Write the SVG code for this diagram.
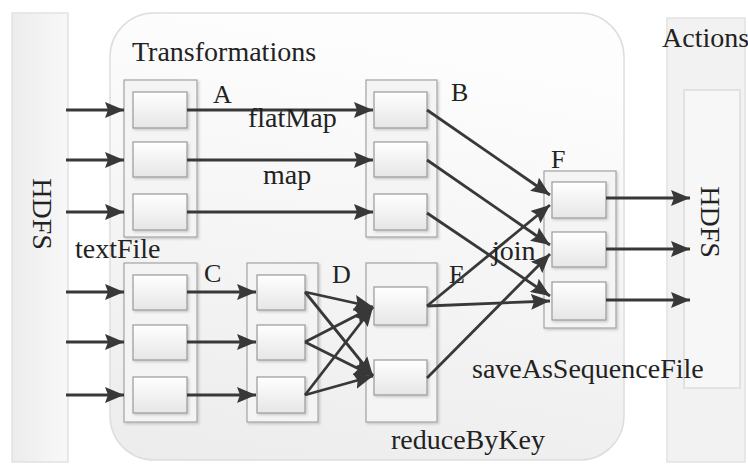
<svg xmlns="http://www.w3.org/2000/svg" width="748" height="466" viewBox="0 0 748 466">
  <style>
    .t { font-family: "Liberation Serif", "Times New Roman", serif; fill: #222222; font-size: 28px; }
    .lbl { font-family: "Liberation Serif", "Times New Roman", serif; fill: #222222; font-size: 26px; }
    .outer { fill: #f4f4f4; stroke: #a3a3a3; stroke-width: 1.2; filter: url(#sh); }
    .inner { fill: url(#gInner); stroke: #9a9a9a; stroke-width: 1.2; filter: url(#sh); }
    .edge { stroke: #383838; stroke-width: 2.8; fill: none; marker-end: url(#arr); }
  </style>
  <defs>
    <marker id="arr" markerUnits="userSpaceOnUse" markerWidth="20" markerHeight="16" refX="19" refY="8" orient="auto">
      <path d="M0,0 L19,8 L0,16 L3,8 z" fill="#383838"/>
    </marker>
    <linearGradient id="gInner" x1="0" y1="0" x2="0" y2="1">
      <stop offset="0" stop-color="#ffffff"/>
      <stop offset="1" stop-color="#e6e6e6"/>
    </linearGradient>
    <linearGradient id="gPanel" x1="0.2" y1="0" x2="0" y2="1">
      <stop offset="0" stop-color="#fdfdfd"/>
      <stop offset="1" stop-color="#ececec"/>
    </linearGradient>
    <linearGradient id="gSide" x1="0" y1="0" x2="1" y2="0">
      <stop offset="0" stop-color="#ececec"/>
      <stop offset="1" stop-color="#f8f8f8"/>
    </linearGradient>
    <filter id="sh" x="-10%" y="-10%" width="130%" height="130%">
      <feDropShadow dx="1.5" dy="1.5" stdDeviation="1" flood-color="#000" flood-opacity="0.18"/>
    </filter>
  </defs>

  <rect width="748" height="466" fill="#ffffff"/>

  <!-- background panels -->
  <g id="hdfs-in">
    <rect x="12" y="13" width="56" height="449" fill="url(#gSide)" stroke="#e2e2e2" stroke-width="1.5"/>
    <text class="t" font-size="25" transform="translate(42,214) rotate(90)" text-anchor="middle" dominant-baseline="central">HDFS</text>
  </g>
  <g id="transformations">
    <rect x="110" y="13" width="514" height="447" rx="44" ry="44" fill="url(#gPanel)" stroke="#dedede" stroke-width="1.5"/>
    <text class="t" x="132" y="61">Transformations</text>
  </g>
  <g id="actions">
    <rect x="667" y="18" width="78" height="444" fill="#f2f2f2" stroke="#e2e2e2" stroke-width="1.5"/>
    <rect x="684" y="90" width="56" height="298" fill="#f7f7f7" stroke="#dcdcdc" stroke-width="1.5"/>
    <text class="t" x="662" y="47">Actions</text>
    <text class="t" font-size="27" transform="translate(710,222) rotate(90)" text-anchor="middle" dominant-baseline="central">HDFS</text>
  </g>

  <!-- RDD nodes -->
  <g id="A">
    <rect class="outer" x="124" y="80" width="73" height="157"/>
    <rect class="inner" x="133" y="92" width="54" height="36"/>
    <rect class="inner" x="133" y="142" width="54" height="35"/>
    <rect class="inner" x="133" y="194" width="54" height="36"/>
    <text class="lbl" x="213" y="103">A</text>
  </g>
  <g id="B">
    <rect class="outer" x="366" y="80" width="71" height="157"/>
    <rect class="inner" x="374" y="92" width="53" height="36"/>
    <rect class="inner" x="374" y="142" width="53" height="35"/>
    <rect class="inner" x="374" y="194" width="53" height="36"/>
    <text class="lbl" x="451" y="101">B</text>
  </g>
  <g id="C">
    <rect class="outer" x="124" y="263" width="73" height="159"/>
    <rect class="inner" x="133" y="275" width="54" height="35"/>
    <rect class="inner" x="133" y="325" width="54" height="35"/>
    <rect class="inner" x="133" y="377" width="54" height="36"/>
    <text class="lbl" x="204" y="282">C</text>
  </g>
  <g id="D">
    <rect class="outer" x="247" y="263" width="71" height="159"/>
    <rect class="inner" x="257" y="275" width="48" height="35"/>
    <rect class="inner" x="257" y="325" width="48" height="35"/>
    <rect class="inner" x="257" y="377" width="48" height="36"/>
    <text class="lbl" x="332" y="283">D</text>
  </g>
  <g id="E">
    <rect class="outer" x="366" y="263" width="71" height="159"/>
    <rect class="inner" x="374" y="287" width="53" height="38"/>
    <rect class="inner" x="374" y="360" width="53" height="35"/>
    <text class="lbl" x="449" y="283">E</text>
  </g>
  <g id="F">
    <rect class="outer" x="544" y="171" width="72" height="157"/>
    <rect class="inner" x="552" y="182" width="54" height="36"/>
    <rect class="inner" x="552" y="232" width="54" height="35"/>
    <rect class="inner" x="552" y="282" width="54" height="38"/>
    <text class="lbl" x="551" y="168">F</text>
  </g>

  <!-- connectors -->
  <g id="connectors">
    <line class="edge" x1="66" y1="110" x2="124" y2="110"/>
    <line class="edge" x1="66" y1="160" x2="124" y2="160"/>
    <line class="edge" x1="66" y1="212" x2="124" y2="212"/>
    <line class="edge" x1="66" y1="292" x2="124" y2="292"/>
    <line class="edge" x1="66" y1="342" x2="124" y2="342"/>
    <line class="edge" x1="66" y1="395" x2="124" y2="395"/>

    <line class="edge" x1="187" y1="110" x2="373" y2="110"/>
    <line class="edge" x1="187" y1="160" x2="373" y2="160"/>
    <line class="edge" x1="187" y1="212" x2="373" y2="212"/>

    <line class="edge" x1="187" y1="292" x2="256" y2="292"/>
    <line class="edge" x1="187" y1="342" x2="256" y2="342"/>
    <line class="edge" x1="187" y1="395" x2="256" y2="395"/>

    <line class="edge" x1="305" y1="292" x2="373" y2="307"/>
    <line class="edge" x1="305" y1="292" x2="373" y2="376"/>
    <line class="edge" x1="305" y1="342" x2="373" y2="307"/>
    <line class="edge" x1="305" y1="342" x2="373" y2="376"/>
    <line class="edge" x1="305" y1="395" x2="373" y2="307"/>
    <line class="edge" x1="305" y1="395" x2="373" y2="376"/>

    <line class="edge" x1="427" y1="110" x2="550" y2="195"/>
    <line class="edge" x1="427" y1="160" x2="550" y2="245"/>
    <line class="edge" x1="427" y1="213" x2="550" y2="296"/>
    <line class="edge" x1="427" y1="306" x2="550" y2="205"/>
    <line class="edge" x1="427" y1="306" x2="550" y2="301"/>
    <line class="edge" x1="427" y1="378" x2="550" y2="254"/>

    <line class="edge" x1="606" y1="198" x2="690" y2="198"/>
    <line class="edge" x1="606" y1="249" x2="690" y2="249"/>
    <line class="edge" x1="606" y1="300" x2="690" y2="300"/>
  </g>

  <!-- edge labels -->
  <g id="labels">
    <text class="t" x="248" y="127">flatMap</text>
    <text class="t" x="263" y="184">map</text>
    <text class="t" x="75" y="258">textFile</text>
    <text class="t" x="492" y="260">join</text>
    <text class="t" x="391" y="449">reduceByKey</text>
    <text class="t" x="472" y="378">saveAsSequenceFile</text>
  </g>
</svg>
